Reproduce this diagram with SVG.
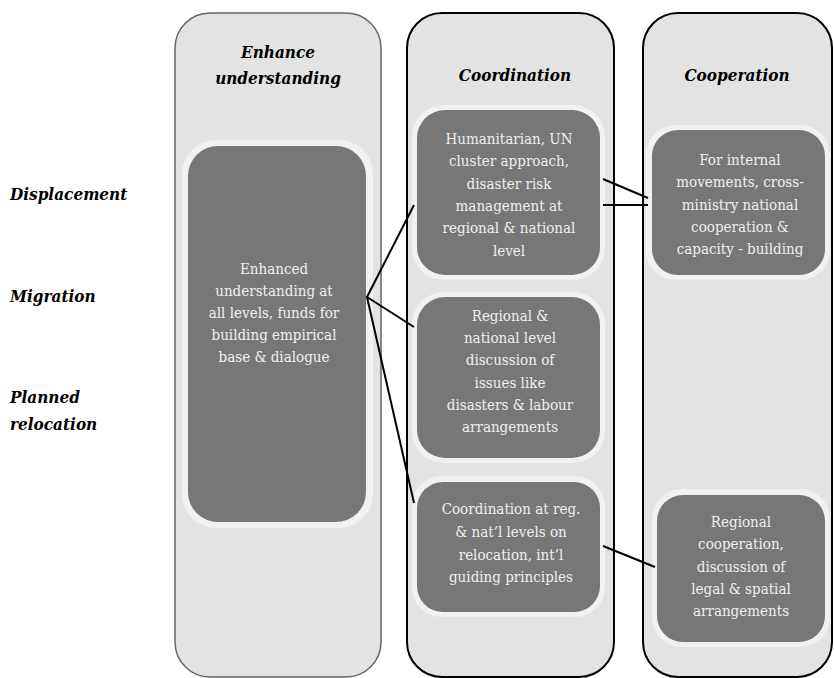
<svg xmlns="http://www.w3.org/2000/svg" width="834" height="678" viewBox="0 0 834 678">
  <style>
    .col { fill: #e3e3e3; }
    .col1 { stroke: #666666; stroke-width: 1.5; }
    .col2 { stroke: #000000; stroke-width: 2; }
    .head { font-family: 'DejaVu Serif Condensed', 'DejaVu Serif', serif; font-size: 17px; font-weight: bold; font-style: italic; fill: #000000; text-anchor: middle; }
    .side { font-family: 'DejaVu Serif Condensed', 'DejaVu Serif', serif; font-size: 17px; font-weight: bold; font-style: italic; fill: #000000; }
    .rim { fill: #f1f1f1; }
    .box { fill: #777777; }
    .body { font-family: 'DejaVu Serif Condensed', 'DejaVu Serif', serif; font-size: 15px; fill: #f0f0f0; text-anchor: middle; }
    .link { stroke: #000000; stroke-width: 2; fill: none; }
  </style>

  <rect width="834" height="678" fill="#ffffff"/>

  <!-- row labels -->
  <g id="row-labels">
    <text class="side" x="10" y="200">Displacement</text>
    <text class="side" x="10" y="302">Migration</text>
    <text class="side" x="10" y="403">Planned</text>
    <text class="side" x="10" y="430">relocation</text>
  </g>

  <!-- columns -->
  <g id="col-understanding">
    <rect class="col col1" x="175" y="13" width="206" height="664" rx="35" ry="35"/>
    <text class="head" x="278" y="58">Enhance</text>
    <text class="head" x="278" y="84">understanding</text>
  </g>
  <g id="col-coordination">
    <rect class="col col2" x="407" y="13" width="207" height="664" rx="35" ry="35"/>
    <text class="head" x="515" y="81">Coordination</text>
  </g>
  <g id="col-cooperation">
    <rect class="col col2" x="643" y="13" width="189" height="664" rx="35" ry="35"/>
    <text class="head" x="737" y="81">Cooperation</text>
  </g>

  <!-- nodes -->
  <g id="node-enhanced">
    <rect class="rim" x="182" y="140" width="191" height="388" rx="34"/>
    <rect class="box" x="188" y="146" width="178" height="376" rx="30"/>
    <text class="body" x="274" y="274">Enhanced</text>
    <text class="body" x="274" y="296">understanding at</text>
    <text class="body" x="274" y="318">all levels, funds for</text>
    <text class="body" x="274" y="340">building empirical</text>
    <text class="body" x="274" y="362">base &amp; dialogue</text>
  </g>

  <g id="node-humanitarian">
    <rect class="rim" x="412" y="105" width="193" height="175" rx="32"/>
    <rect class="box" x="417" y="110" width="183" height="165" rx="28"/>
    <text class="body" x="509" y="144">Humanitarian, UN</text>
    <text class="body" x="509" y="166">cluster approach,</text>
    <text class="body" x="509" y="188.5">disaster risk</text>
    <text class="body" x="509" y="211">management at</text>
    <text class="body" x="509" y="233">regional &amp; national</text>
    <text class="body" x="509" y="255.5">level</text>
  </g>

  <g id="node-regional-discussion">
    <rect class="rim" x="412" y="292" width="193" height="171" rx="32"/>
    <rect class="box" x="417" y="297" width="183" height="161" rx="28"/>
    <text class="body" x="510" y="321">Regional &amp;</text>
    <text class="body" x="510" y="343">national level</text>
    <text class="body" x="510" y="365">discussion of</text>
    <text class="body" x="510" y="387.5">issues like</text>
    <text class="body" x="510" y="410">disasters &amp; labour</text>
    <text class="body" x="510" y="432">arrangements</text>
  </g>

  <g id="node-relocation-coordination">
    <rect class="rim" x="412" y="476" width="193" height="141" rx="30"/>
    <rect class="box" x="417" y="482" width="183" height="130" rx="26"/>
    <text class="body" x="511" y="514">Coordination at reg.</text>
    <text class="body" x="511" y="537">&amp; nat’l levels on</text>
    <text class="body" x="511" y="559.5">relocation, int’l</text>
    <text class="body" x="511" y="582">guiding principles</text>
  </g>

  <g id="node-internal-movements">
    <rect class="rim" x="646" y="125" width="184" height="155" rx="30"/>
    <rect class="box" x="652" y="130" width="173" height="145" rx="26"/>
    <text class="body" x="740" y="165">For internal</text>
    <text class="body" x="740" y="187">movements, cross-</text>
    <text class="body" x="740" y="209.5">ministry national</text>
    <text class="body" x="740" y="232">cooperation &amp;</text>
    <text class="body" x="740" y="254">capacity - building</text>
  </g>

  <g id="node-regional-cooperation">
    <rect class="rim" x="652" y="489" width="178" height="158" rx="30"/>
    <rect class="box" x="657" y="495" width="168" height="147" rx="26"/>
    <text class="body" x="741" y="527">Regional</text>
    <text class="body" x="741" y="549">cooperation,</text>
    <text class="body" x="741" y="571.5">discussion of</text>
    <text class="body" x="741" y="594">legal &amp; spatial</text>
    <text class="body" x="741" y="616">arrangements</text>
  </g>

  <!-- connectors -->
  <g id="connectors">
    <polyline class="link" points="414,205 367,297 414,327"/>
    <line class="link" x1="367" y1="297" x2="414" y2="503"/>
    <line class="link" x1="603" y1="179" x2="648" y2="198"/>
    <line class="link" x1="603" y1="205" x2="648" y2="205"/>
    <line class="link" x1="603" y1="546" x2="655" y2="567"/>
  </g>
</svg>
